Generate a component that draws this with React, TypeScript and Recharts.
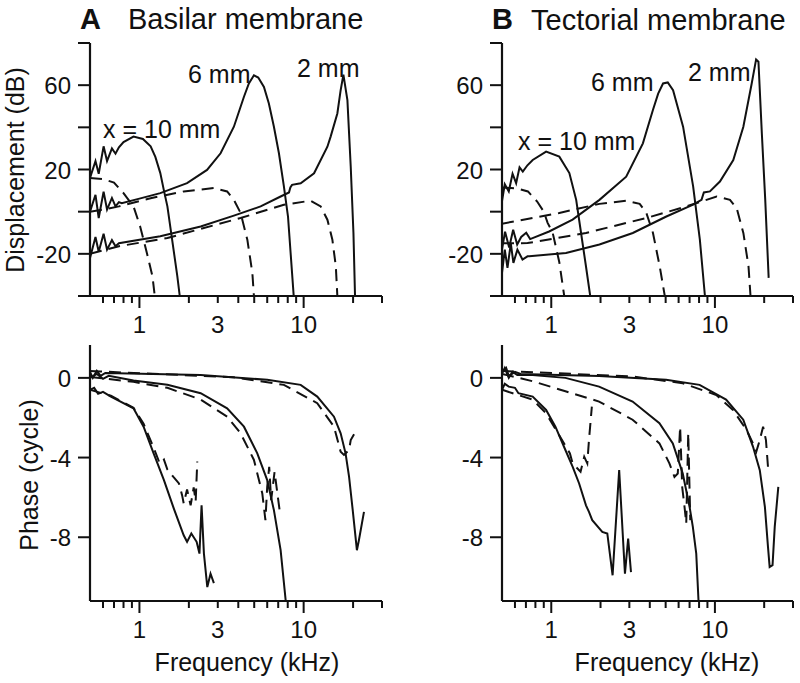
import React from 'react';
import { LineChart, Line, XAxis, YAxis } from 'recharts';

type Pt = [number, number];

const INK = '#111';
const FONT = '"Liberation Sans", Arial, Helvetica, sans-serif';

// frequency axis (kHz), log scale
const freqDomain = [0.5, 30];
const freqTicks = [0.6, 0.7, 0.8, 0.9, 1, 2, 3, 4, 5, 6, 7, 8, 9, 10, 20, 30];
const freqLabels = [1, 3, 10];
const freqMajor = [1, 10];

// displacement (dB)
const ampDomain = [-40, 80];
const ampTicks = [-40, -20, 0, 20, 40, 60, 80];
const ampLabels = [-20, 20, 60];

// phase (cycle)
const phaseDomain = [-11.2, 1.65];
const phaseTicks = [-8, -4, 0];
const phaseLabels = [-8, -4, 0];

// A: basilar membrane displacement, [kHz, dB]
const bmAmpSolid10: Pt[] = [[0.5, 16], [0.54, 24], [0.565, 18], [0.605, 31], [0.635, 24], [0.68, 30], [0.715, 27.5], [0.75, 30.5], [0.8, 33], [0.92, 35.6], [1.05, 34.5], [1.17, 31], [1.25, 26], [1.34, 18.3], [1.41, 10], [1.48, 2.5], [1.58, -13], [1.7, -30.5], [1.76, -40]];
const bmAmpDashed10: Pt[] = [[0.5, 16], [0.6, 15.5], [0.7, 13.8], [0.8, 8.8], [0.92, 2.5], [1.01, -7], [1.11, -19.6], [1.2, -30.6], [1.24, -40]];
const bmAmpSolid6: Pt[] = [[0.5, 0], [0.54, 8], [0.565, -3], [0.605, 9.5], [0.635, 1], [0.68, 6.5], [0.715, 2.5], [0.75, 4.5], [0.78, 4], [1.0, 6.2], [1.34, 8.8], [1.95, 13.5], [2.58, 19.8], [3.12, 27.7], [3.76, 40.3], [4.33, 54.5], [4.64, 60.8], [4.98, 64.7], [5.29, 63.6], [5.73, 59.2], [6.14, 51.3], [6.59, 40.3], [7.07, 27.7], [7.58, 12], [8.03, -2.3], [8.33, -19.6], [8.7, -40]];
const bmAmpDashed6: Pt[] = [[0.5, 0], [0.6, 1], [0.75, 2.5], [1.17, 6.4], [1.86, 9.6], [2.84, 11.2], [3.42, 9.6], [3.76, 5.6], [4.13, -0.6], [4.54, -13.3], [4.87, -29], [4.98, -40]];
const bmAmpSolid2: Pt[] = [[0.5, -22], [0.54, -12], [0.565, -19], [0.605, -10.5], [0.635, -18], [0.68, -13.5], [0.715, -16.4], [0.75, -15], [1.34, -11.7], [2.36, -7], [3.76, -1.9], [5.47, 2.5], [7.24, 7.2], [8.14, 9.1], [8.3, 11.5], [8.5, 12.7], [9.59, 13.5], [11.57, 18.2], [13.95, 30.8], [14.6, 35.6], [16.04, 46.6], [16.8, 57.6], [17.46, 65], [18.47, 52.9], [19.35, 21.4], [20.1, -10], [20.55, -40]];
const bmAmpDashed2: Pt[] = [[0.5, -20], [0.75, -16.4], [1.48, -12.5], [4.13, -3], [7.58, 3.3], [11.03, 5.2], [12.7, 2.5], [13.95, -3.8], [14.96, -13.3], [15.7, -25.9], [16.04, -40]];

// B: tectorial membrane displacement, [kHz, dB]
const tmAmpSolid10: Pt[] = [[0.5, 5], [0.52, 13], [0.55, 9.6], [0.58, 18], [0.61, 13.5], [0.64, 21], [0.67, 19], [0.715, 22], [0.77, 24.5], [0.93, 28.5], [1.12, 26.1], [1.29, 18.3], [1.42, 5.6], [1.52, -10], [1.63, -26], [1.73, -40]];
const tmAmpDashed10: Pt[] = [[0.5, 11.5], [0.62, 11], [0.72, 9.6], [0.82, 4.8], [0.9, 0], [0.95, -5.3], [1.02, -10], [1.12, -24], [1.2, -40]];
const tmAmpSolid6: Pt[] = [[0.5, -18], [0.522, -9.5], [0.553, -17], [0.585, -8.6], [0.619, -15.6], [0.655, -12], [0.703, -10], [0.743, -13], [0.97, -9.4], [1.35, -3.8], [1.97, 5.6], [2.87, 16.6], [3.63, 32.4], [4.18, 48.2], [4.5, 56], [4.82, 60.8], [5.15, 61.3], [5.55, 57.6], [6.39, 40.3], [7.36, 12], [8.09, -13.3], [8.69, -40]];
const tmAmpDashed6: Pt[] = [[0.5, -5.7], [0.77, -3], [1.12, -0.6], [1.97, 3.7], [2.87, 5.2], [3.47, 3.7], [3.81, -0.6], [4.18, -10], [4.6, -26], [4.94, -40]];
const tmAmpSolid2: Pt[] = [[0.5, -29], [0.52, -18], [0.54, -26.7], [0.566, -15], [0.587, -24.3], [0.621, -18], [0.667, -22.7], [0.716, -21.2], [0.733, -21.2], [1.23, -19.6], [1.97, -15.6], [3.15, -10.1], [5.05, -2.3], [7.36, 3.3], [8.28, 5.6], [8.56, 9.1], [9.32, 9.6], [10.73, 14.3], [12.95, 24.5], [14.92, 40.3], [16.78, 60.8], [17.85, 72.2], [18.45, 71.1], [19.35, 37.2], [20.3, 5.6], [21.3, -31.4]];
const tmAmpDashed2: Pt[] = [[0.5, -15], [0.716, -14.9], [1.63, -10.1], [3.81, -3], [6.7, 2.5], [10.24, 7.2], [12.36, 5.6], [13.58, 1.7], [14.92, -10.1], [16.04, -25.9], [16.5, -40]];

// A: basilar membrane phase, [kHz, cycle]
const bmPhaseSolid2: Pt[] = [[0.5, 0.3], [0.52, 0], [0.55, 0.35], [0.58, 0.1], [0.62, 0.25], [2.36, 0.15], [6.0, -0.1], [9.59, -0.35], [12.1, -0.94], [15.3, -1.95], [16.8, -2.78], [18.0, -3.79], [18.9, -4.96], [19.8, -6.47], [21.1, -8.65], [21.7, -8.15], [23.3, -6.73]];
const bmPhaseDashed2: Pt[] = [[0.5, 0.35], [0.58, 0.32], [3.76, 0.03], [7.58, -0.35], [12.1, -1.27], [15.3, -2.45], [16.8, -3.71], [17.6, -3.87], [18.9, -3.62], [19.35, -3.12], [20.7, -2.7]];
const bmPhaseSolid6: Pt[] = [[0.5, 0], [0.55, 0.2], [0.6, -0.05], [0.65, 0.1], [0.92, -0.13], [1.48, -0.35], [2.36, -0.77], [3.42, -1.53], [4.33, -2.45], [5.22, -3.79], [6.0, -5.13], [6.59, -6.64], [7.24, -8.65], [7.78, -11.2]];
const bmPhaseDashed6: Pt[] = [[0.5, 0.05], [0.92, -0.2], [1.48, -0.5], [2.36, -1.09], [3.42, -1.95], [4.13, -2.78], [4.98, -4.12], [5.6, -5.8], [5.85, -7.14], [6.0, -5.47], [6.17, -4.46], [6.34, -6.14], [6.65, -4.72], [7.16, -6.73]];
const bmPhaseSolid10: Pt[] = [[0.5, -0.6], [0.53, -0.5], [0.56, -0.8], [0.6, -0.7], [0.67, -0.94], [0.92, -1.53], [1.06, -2.45], [1.22, -3.79], [1.41, -5.13], [1.62, -6.56], [1.86, -7.9], [1.95, -8.23], [2.07, -7.81], [2.23, -8.23], [2.32, -8.82], [2.39, -6.39], [2.47, -8.82], [2.59, -10.5], [2.71, -9.83], [2.84, -10.3]];
const bmPhaseDashed10: Pt[] = [[0.5, -0.6], [0.67, -0.9], [0.92, -1.5], [1.06, -2.3], [1.22, -3.5], [1.33, -4.3], [1.41, -4.1], [1.48, -4.6], [1.62, -5], [1.74, -5.3], [1.82, -5.9], [1.86, -6.3], [1.95, -5.6], [2.05, -6.4], [2.14, -5.5], [2.2, -6.2], [2.25, -4.2]];

// B: tectorial membrane phase, [kHz, cycle]
const tmPhaseSolid2: Pt[] = [[0.5, 0.3], [0.53, 0.5], [0.55, 0.1], [0.6, 0.3], [0.65, 0.2], [1.96, 0.1], [5.03, -0.1], [8.06, -0.35], [11.7, -1.09], [14.9, -2.1], [17.1, -3.46], [18.8, -4.63], [20.2, -6.47], [21.1, -8.48], [21.6, -9.49], [22.5, -9.4], [23.2, -7.48], [24.4, -5.47]];
const tmPhaseDashed2: Pt[] = [[0.5, 0.35], [3.14, 0.07], [6.36, -0.27], [10.2, -0.86], [12.9, -1.61], [15.6, -2.62], [17.1, -3.29], [17.9, -3.71], [18.8, -3.12], [19.7, -2.45], [20.5, -3.12], [21.1, -4.46]];
const tmPhaseSolid6: Pt[] = [[0.5, 0.2], [0.52, 0.5], [0.55, 0], [0.58, 0.3], [0.62, 0.15], [0.77, 0.15], [1.22, 0], [1.96, -0.44], [3.14, -1.19], [4.58, -2.28], [5.53, -3.29], [6.36, -4.8], [7.0, -6.47], [7.33, -7.48], [7.69, -8.82], [7.94, -11.2]];
const tmPhaseDashed6: Pt[] = [[0.5, 0.2], [0.77, -0.17], [1.22, -0.67], [1.96, -1.19], [3.14, -2.1], [4.58, -3.29], [5.27, -4.29], [5.66, -4.97], [5.93, -4.8], [6.13, -2.45], [6.31, -5.47], [6.52, -6.47], [6.68, -7.31], [6.87, -2.78], [7.07, -7.14]];
const tmPhaseSolid10: Pt[] = [[0.5, -0.6], [0.52, -0.3], [0.55, -0.44], [0.6, -0.5], [0.63, -0.77], [0.77, -0.94], [0.93, -1.61], [1.06, -2.45], [1.22, -3.62], [1.35, -4.46], [1.48, -5.3], [1.63, -6.4], [1.7, -6.73], [1.78, -7.14], [2.05, -7.73], [2.2, -7.81], [2.37, -9.91], [2.6, -4.63], [2.82, -9.83], [2.95, -8.07], [3.07, -9.75]];
const tmPhaseDashed10: Pt[] = [[0.5, -0.6], [0.77, -1.09], [0.93, -1.78], [1.1, -2.78], [1.3, -3.79], [1.35, -4.29], [1.51, -4.71], [1.59, -3.96], [1.66, -4.29], [1.7, -3.12], [1.77, -1.44]];

const rows = (pts: Pt[]) => pts.map(([f, v]) => ({ f, v }));

function FreqTick({ x, y, payload }: any) {
  const v = payload.value;
  const len = freqMajor.includes(v) ? 12 : 7;
  return (
    <g>
      <line x1={x} x2={x} y1={y} y2={y + len} stroke={INK} strokeWidth={2} />
      {freqLabels.includes(v) && (
        <text x={x} y={y + 37} textAnchor="middle" fontSize={24} fill={INK} fontFamily={FONT}>
          {v}
        </text>
      )}
    </g>
  );
}

function valueTick(labels: number[]) {
  return ({ x, y, payload }: any) =>
    labels.includes(payload.value) ? (
      <text x={x} y={y + 9} textAnchor="end" fontSize={24} fill={INK} fontFamily={FONT}>
        {payload.value}
      </text>
    ) : (
      <g />
    );
}

type Curve = { pts: Pt[]; dashed?: boolean };

function Panel({ left, top, margin, curves, yDomain, yTicks, yLabels }: any) {
  return (
    <div style={{ position: 'absolute', left, top }}>
      <LineChart width={400} height={345} margin={margin}>
        <XAxis
          dataKey="f"
          type="number"
          scale="log"
          domain={freqDomain}
          allowDataOverflow
          ticks={freqTicks}
          interval={0}
          tickLine={false}
          tickSize={0}
          tickMargin={0}
          tick={(p: any) => <FreqTick {...p} />}
          height={45}
          stroke={INK}
          axisLine={{ stroke: INK, strokeWidth: 2.2 }}
        />
        <YAxis
          type="number"
          domain={yDomain}
          allowDataOverflow
          ticks={yTicks}
          interval={0}
          width={60}
          tickSize={12}
          tickMargin={7}
          stroke={INK}
          tickLine={{ stroke: INK, strokeWidth: 2 }}
          axisLine={{ stroke: INK, strokeWidth: 2.2 }}
          tick={valueTick(yLabels)}
        />
        {(curves as Curve[]).map((c, i) => (
          <Line
            key={i}
            data={rows(c.pts)}
            dataKey="v"
            type="linear"
            dot={false}
            activeDot={false}
            stroke={INK}
            strokeWidth={2}
            strokeDasharray={c.dashed ? '12 7' : undefined}
            isAnimationActive={false}
          />
        ))}
      </LineChart>
    </div>
  );
}

const topMarginL = { top: 43, right: 18, bottom: 4, left: 30 };
const botMarginL = { top: 25, right: 18, bottom: 19, left: 30 };
const topMarginR = { top: 43, right: 7, bottom: 4, left: 42 };
const botMarginR = { top: 25, right: 7, bottom: 19, left: 42 };

export default function App() {
  const txt = { fill: INK, fontFamily: FONT } as const;
  return (
    <div style={{ position: 'absolute', left: 0, top: 0, width: 800, height: 683, background: '#fff' }}>
      <Panel
        left={0}
        top={0}
        margin={topMarginL}
        yDomain={ampDomain}
        yTicks={ampTicks}
        yLabels={ampLabels}
        curves={[
          { pts: bmAmpSolid10 }, { pts: bmAmpDashed10, dashed: true },
          { pts: bmAmpSolid6 }, { pts: bmAmpDashed6, dashed: true },
          { pts: bmAmpSolid2 }, { pts: bmAmpDashed2, dashed: true },
        ]}
      />
      <Panel
        left={400}
        top={0}
        margin={topMarginR}
        yDomain={ampDomain}
        yTicks={ampTicks}
        yLabels={ampLabels}
        curves={[
          { pts: tmAmpSolid10 }, { pts: tmAmpDashed10, dashed: true },
          { pts: tmAmpSolid6 }, { pts: tmAmpDashed6, dashed: true },
          { pts: tmAmpSolid2 }, { pts: tmAmpDashed2, dashed: true },
        ]}
      />
      <Panel
        left={0}
        top={320}
        margin={botMarginL}
        yDomain={phaseDomain}
        yTicks={phaseTicks}
        yLabels={phaseLabels}
        curves={[
          { pts: bmPhaseSolid10 }, { pts: bmPhaseDashed10, dashed: true },
          { pts: bmPhaseSolid6 }, { pts: bmPhaseDashed6, dashed: true },
          { pts: bmPhaseSolid2 }, { pts: bmPhaseDashed2, dashed: true },
        ]}
      />
      <Panel
        left={400}
        top={320}
        margin={botMarginR}
        yDomain={phaseDomain}
        yTicks={phaseTicks}
        yLabels={phaseLabels}
        curves={[
          { pts: tmPhaseSolid10 }, { pts: tmPhaseDashed10, dashed: true },
          { pts: tmPhaseSolid6 }, { pts: tmPhaseDashed6, dashed: true },
          { pts: tmPhaseSolid2 }, { pts: tmPhaseDashed2, dashed: true },
        ]}
      />
      <svg width={800} height={683} style={{ position: 'absolute', left: 0, top: 0, pointerEvents: 'none' }}>
        <text x={80} y={29} fontSize={29} fontWeight="bold" {...txt}>A</text>
        <text x={128} y={29} fontSize={29} {...txt}>Basilar membrane</text>
        <text x={492} y={29} fontSize={29} fontWeight="bold" {...txt}>B</text>
        <text x={531} y={30} fontSize={29} {...txt}>Tectorial membrane</text>

        <text x={24} y={170} fontSize={25} textAnchor="middle" transform="rotate(-90 24 170)" {...txt}>Displacement (dB)</text>
        <text x={38} y={475} fontSize={25} textAnchor="middle" transform="rotate(-90 38 475)" {...txt}>Phase (cycle)</text>
        <text x={247} y={671} fontSize={25} textAnchor="middle" {...txt}>Frequency (kHz)</text>
        <text x={667} y={671} fontSize={25} textAnchor="middle" {...txt}>Frequency (kHz)</text>

        <text x={103} y={138} fontSize={25} {...txt}>x = 10 mm</text>
        <text x={188} y={83} fontSize={25} {...txt}>6 mm</text>
        <text x={297} y={77} fontSize={25} {...txt}>2 mm</text>
        <text x={518} y={150} fontSize={25} {...txt}>x = 10 mm</text>
        <text x={591} y={91} fontSize={25} {...txt}>6 mm</text>
        <text x={688} y={81} fontSize={25} {...txt}>2 mm</text>
      </svg>
    </div>
  );
}
